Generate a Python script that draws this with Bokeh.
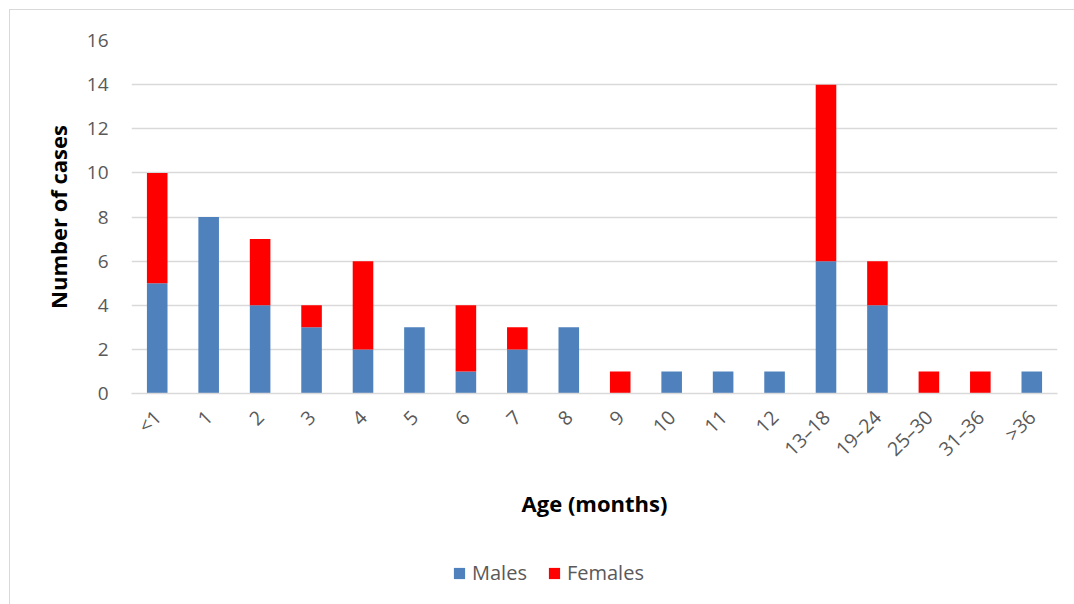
from bokeh.plotting import figure
from bokeh.models import FactorRange, Legend, LegendItem
from bokeh.layouts import column
from bokeh.embed import file_html
from bokeh.resources import INLINE
import math

# Age groups (months) and case counts by sex
ages = ["<1", "1", "2", "3", "4", "5", "6", "7", "8", "9", "10", "11", "12",
        "13–18", "19–24", "25–30", "31–36", ">36"]
males = [5, 8, 4, 3, 2, 3, 1, 2, 3, 0, 1, 1, 1, 6, 4, 0, 0, 1]
females = [5, 0, 3, 1, 4, 0, 3, 1, 0, 1, 0, 0, 0, 8, 2, 1, 1, 0]
y_ticks = [0, 2, 4, 6, 8, 10, 12, 14, 16]
series = ["Males", "Females"]

BLUE = "#4F81BD"
RED = "#FF0000"
GRID = "#D9D9D9"
TEXT = "#595959"
FONT = "Open Sans"

p = figure(
    x_range=FactorRange(*ages),
    y_range=(0, 16),
    width=1064, height=530,
    output_backend="svg", toolbar_location=None,
    min_border_left=121, min_border_right=17,
    min_border_top=30, min_border_bottom=147,
)
p.outline_line_color = None

data = dict(age=ages, Males=males, Females=females)
p.vbar_stack(series, x="age", width=0.4, color=[BLUE, RED],
             line_color=None, source=data)

# y axis
p.yaxis.ticker = y_ticks
p.yaxis.axis_line_color = None
p.yaxis.major_tick_line_color = None
p.yaxis.minor_tick_line_color = None
p.yaxis.major_label_text_font = FONT
p.yaxis.major_label_text_font_size = "19px"
p.yaxis.major_label_text_color = TEXT
p.yaxis.major_label_standoff = 17
p.yaxis.axis_label = "Number of cases"
p.yaxis.axis_label_text_font = FONT
p.yaxis.axis_label_text_font_style = "bold"
p.yaxis.axis_label_text_font_size = "22px"
p.yaxis.axis_label_text_color = "black"
p.yaxis.axis_label_standoff = 11

# x axis
p.xaxis.axis_line_color = GRID
p.xaxis.axis_line_width = 1.5
p.xaxis.major_tick_line_color = None
p.xaxis.minor_tick_line_color = None
p.xaxis.major_label_orientation = math.pi / 4
p.xaxis.major_label_text_font = FONT
p.xaxis.major_label_text_font_size = "19.5px"
p.xaxis.major_label_text_color = TEXT
p.xaxis.major_label_standoff = 14
p.xaxis.axis_label = "Age (months)"
p.xaxis.axis_label_text_font = FONT
p.xaxis.axis_label_text_font_style = "bold"
p.xaxis.axis_label_text_font_size = "22px"
p.xaxis.axis_label_text_color = "black"
p.xaxis.axis_label_standoff = 14

p.xgrid.grid_line_color = None
p.ygrid.grid_line_color = GRID
p.ygrid.grid_line_width = 1.5

# Legend strip below the chart; its renderers are hidden, only the keys show
lg = figure(x_range=FactorRange(*ages), width=1064, height=64,
            output_backend="svg", toolbar_location=None,
            x_axis_type=None, y_axis_type=None,
            min_border_left=0, min_border_right=0, min_border_top=0, min_border_bottom=0)
lg.outline_line_color = None
keys = lg.vbar_stack(series, x="age", width=0.4, color=[BLUE, RED],
                     line_color=None, source=data)
for k in keys:
    k.visible = False
legend = Legend(
    items=[LegendItem(label=s, renderers=[k]) for s, k in zip(series, keys)],
    orientation="horizontal",
    location=(321, 18),
    border_line_color=None, background_fill_alpha=0,
    padding=0, margin=0, spacing=20,
    glyph_width=14, glyph_height=14, label_standoff=6,
    label_text_font=FONT, label_text_font_size="20px", label_text_color=TEXT,
)
lg.add_layout(legend, "center")

page = column(p, lg, spacing=0)
page.margin = (10, 0, 0, 10)
page.styles = {"outline": "1px solid #D9D9D9"}

open("out.html", "w").write(file_html(page, INLINE))
